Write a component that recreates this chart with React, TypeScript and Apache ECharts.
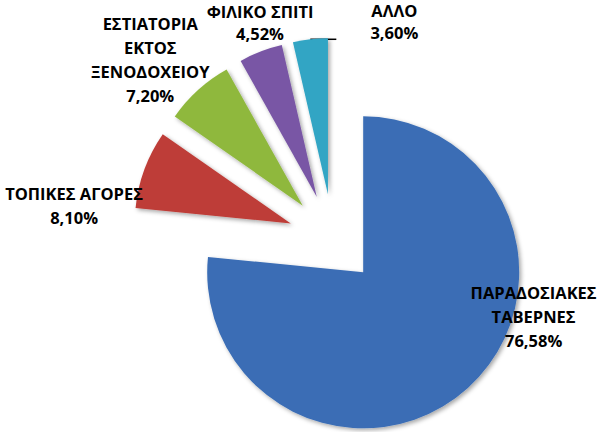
import React, { useEffect, useRef } from "react";
import * as echarts from "echarts";

const categories = [
  "ΠΑΡΑΔΟΣΙΑΚΕΣ\nΤΑΒΕΡΝΕΣ",
  "ΤΟΠΙΚΕΣ ΑΓΟΡΕΣ",
  "ΕΣΤΙΑΤΟΡΙΑ\nΕΚΤΟΣ\nΞΕΝΟΔΟΧΕΙΟΥ",
  "ΦΙΛΙΚΟ ΣΠΙΤΙ",
  "ΑΛΛΟ",
];
const shares = [76.58, 8.1, 7.2, 4.52, 3.6];
const colors = ["#3a6db5", "#be3d37", "#8fb83e", "#7957a5", "#31a5c4"];

// label nudges (px) from the library's outside position
const labelNudge: [number, number][] = [
  [54, -79],
  [-56, 40],
  [-36, -23],
  [8, -20],
  [63, -18],
];

const App: React.FC = () => {
  const chartRef = useRef<HTMLDivElement>(null);

  useEffect(() => {
    const chart = echarts.init(chartRef.current!, undefined, { renderer: "svg" });
    chart.setOption({
      animation: false,
      series: [
        {
          type: "pie",
          center: [333, 239],
          radius: 156,
          startAngle: 90,
          clockwise: true,
          selectedMode: "multiple",
          selectedOffset: 45,
          avoidLabelOverlap: false,
          label: {
            show: true,
            position: "outside",
            alignTo: "none",
            formatter: (p: any) =>
              p.name + "\n" + p.value.toFixed(2).replace(".", ",") + "%",
            fontFamily: "Open Sans",
            fontSize: 16.5,
            fontWeight: "bold",
            lineHeight: 24,
            color: "#000",
          },
          labelLine: { show: false, length: 10, length2: 0 },
          labelLayout: (p: any) => ({
            dx: labelNudge[p.dataIndex][0],
            dy: labelNudge[p.dataIndex][1],
            align: "center",
            verticalAlign: "middle",
          }),
          itemStyle: {
            shadowBlur: 4,
            shadowOffsetX: 2,
            shadowOffsetY: 2,
            shadowColor: "rgba(0,0,0,0.35)",
          },
          data: categories.map((name, i) => ({
            name,
            value: shares[i],
            selected: true,
            itemStyle: { color: colors[i] },
            label: i >= 3 ? { lineHeight: 22 } : undefined,
            labelLine:
              i === 4
                ? {
                    show: true,
                    length: 0,
                    length2: -26,
                    lineStyle: { color: "#000", width: 1.5 },
                  }
                : undefined,
          })),
        },
      ],
    });
    return () => chart.dispose();
  }, []);

  return (
    <div
      ref={chartRef}
      style={{ position: "absolute", left: 0, top: 0, width: 605, height: 432 }}
    />
  );
};

export default App;
